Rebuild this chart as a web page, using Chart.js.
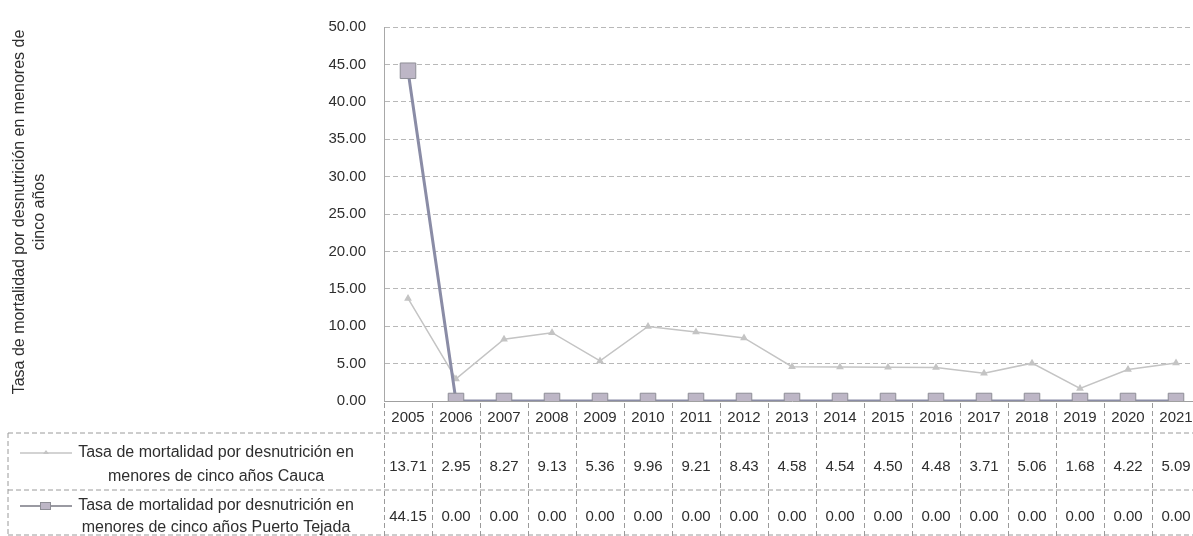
<!DOCTYPE html>
<html>
<head>
<meta charset="utf-8">
<script src="https://cdn.jsdelivr.net/npm/chart.js@4/dist/chart.umd.min.js"></script>
<style>
html,body{margin:0;padding:0;background:#fff;overflow:hidden;width:1193px;height:536px;}
#wrap{width:1212px;height:536px;}
</style>
</head>
<body>
<div id="wrap"><canvas id="c" width="1212" height="536"></canvas></div>
<script>
const years = ['2005','2006','2007','2008','2009','2010','2011','2012','2013','2014','2015','2016','2017','2018','2019','2020','2021'];
const cauca = [13.71,2.95,8.27,9.13,5.36,9.96,9.21,8.43,4.58,4.54,4.50,4.48,3.71,5.06,1.68,4.22,5.09];
const puertoTejada = [44.15,0,0,0,0,0,0,0,0,0,0,0,0,0,0,0,0];
const seriesNames = [
  ['Tasa de mortalidad por desnutrición en','menores de cinco años Cauca'],
  ['Tasa de mortalidad por desnutrición en','menores de cinco años Puerto Tejada']
];
const yTitle = ['Tasa de mortalidad por desnutrición en menores de','cinco años'];

const FONT = '"Liberation Sans", Arial, sans-serif';
const TXT = '#2e2e2e';
const GRID = '#b8b8b8';
const CAUCA_COL = '#c4c4c4';
const PT_LINE = '#8a8ca6';
const PT_FILL = '#bdb6c6';
const PT_BORDER = '#8e8e96';

function dashedLine(ctx,x1,y1,x2,y2){
  ctx.beginPath();ctx.moveTo(x1,y1);ctx.lineTo(x2,y2);ctx.stroke();
}

const tablePlugin = {
  id:'tablePlugin',
  afterDraw(chart){
    const ctx = chart.ctx;
    const xs = chart.scales.x;
    const ca = chart.chartArea;
    const n = years.length;
    const w = xs.getPixelForValue(1) - xs.getPixelForValue(0);
    ctx.save();
    // y-axis title
    ctx.fillStyle = TXT;
    ctx.font = '16px ' + FONT;
    ctx.textAlign = 'center';
    ctx.textBaseline = 'middle';
    ctx.save();
    ctx.translate(20, 212);
    ctx.rotate(-Math.PI/2);
    ctx.fillText(yTitle[0], 0, 0);
    ctx.fillText(yTitle[1], 0, 20);
    ctx.restore();

    // table grid
    ctx.strokeStyle = '#9a9a9a';
    ctx.lineWidth = 1;
    ctx.setLineDash([5,3]);
    const tTop = 433, tMid = 490, tBot = 535;
    dashedLine(ctx, 8, tTop, 1212, tTop);
    dashedLine(ctx, 8, tMid, 1212, tMid);
    dashedLine(ctx, 8, tBot, 1212, tBot);
    dashedLine(ctx, 8, tTop, 8, 536);
    for(let i=0;i<=n;i++){
      const bx = Math.round(xs.getPixelForValue(0) - w/2 + i*w) + 0.5;
      dashedLine(ctx, bx, ca.bottom + 2, bx, 536);
    }
    ctx.setLineDash([]);

    // legend cells
    const rows = [
      {names: seriesNames[0], vals: cauca, y1: 453, y2: 477, vy: 467, kind: 'c'},
      {names: seriesNames[1], vals: puertoTejada, y1: 506, y2: 528, vy: 517, kind: 'p'}
    ];
    rows.forEach(r=>{
      ctx.fillStyle = TXT;
      ctx.font = '16px ' + FONT;
      ctx.textAlign = 'center';
      ctx.fillText(r.names[0], 216, r.y1);
      ctx.fillText(r.names[1], 216, r.y2);
      // key
      if(r.kind==='c'){
        ctx.strokeStyle = CAUCA_COL; ctx.lineWidth = 1.5;
        dashedLine(ctx, 20, r.y1, 72, r.y1);
        ctx.fillStyle = CAUCA_COL;
        ctx.beginPath();ctx.moveTo(46,r.y1-3);ctx.lineTo(49,r.y1+1);ctx.lineTo(43,r.y1+1);ctx.closePath();ctx.fill();
      } else {
        ctx.strokeStyle = '#9a9aa2'; ctx.lineWidth = 2;
        dashedLine(ctx, 20, r.y1, 72, r.y1);
        ctx.fillStyle = PT_FILL; ctx.strokeStyle = PT_BORDER; ctx.lineWidth = 1;
        ctx.fillRect(40, r.y1-4, 11, 8); ctx.strokeRect(40.5, r.y1-3.5, 10, 7);
      }
      ctx.fillStyle = TXT;
      ctx.font = '15px ' + FONT;
      ctx.textAlign = 'center';
      r.vals.forEach((v,i)=>{
        ctx.fillText(v.toFixed(2), xs.getPixelForValue(i), r.vy);
      });
    });
    ctx.restore();
  }
};

new Chart(document.getElementById('c'), {
  type: 'line',
  data: {
    labels: years,
    datasets: [
      {
        label: 'Puerto Tejada',
        data: puertoTejada,
        borderColor: PT_LINE,
        borderWidth: 3,
        pointStyle: 'rect',
        pointRadius: 11,
        pointBackgroundColor: PT_FILL,
        pointBorderColor: PT_BORDER,
        pointBorderWidth: 1,
        tension: 0,
        order: 0
      },
      {
        label: 'Cauca',
        data: cauca,
        borderColor: CAUCA_COL,
        borderWidth: 1.5,
        pointStyle: 'triangle',
        pointRadius: 3,
        pointBackgroundColor: CAUCA_COL,
        pointBorderColor: CAUCA_COL,
        tension: 0,
        order: 1
      }
    ]
  },
  options: {
    responsive: false,
    animation: false,
    events: [],
    layout: {padding: {top: 23, right: 5, bottom: 105, left: 0}},
    plugins: {legend: {display: false}, tooltip: {enabled: false}, title: {display: false}},
    scales: {
      x: {
        offset: true,
        grid: {display: false, drawTicks: false},
        border: {display: true, color: '#a0a0a0', width: 1},
        ticks: {color: TXT, font: {family: FONT, size: 15}, padding: 8, maxRotation: 0, autoSkip: false},
        afterFit(s){ s.height = 30; }
      },
      y: {
        min: 0, max: 50,
        ticks: {stepSize: 5, color: TXT, font: {family: FONT, size: 15}, padding: 18,
          callback: v => Number(v).toFixed(2)},
        grid: {color: GRID, lineWidth: 1, drawTicks: false},
        border: {display: true, color: '#a8a8a8', dash: [5,3]},
        afterFit(s){ s.width = 384; }
      }
    }
  },
  plugins: [tablePlugin]
});
</script>
</body>
</html>
